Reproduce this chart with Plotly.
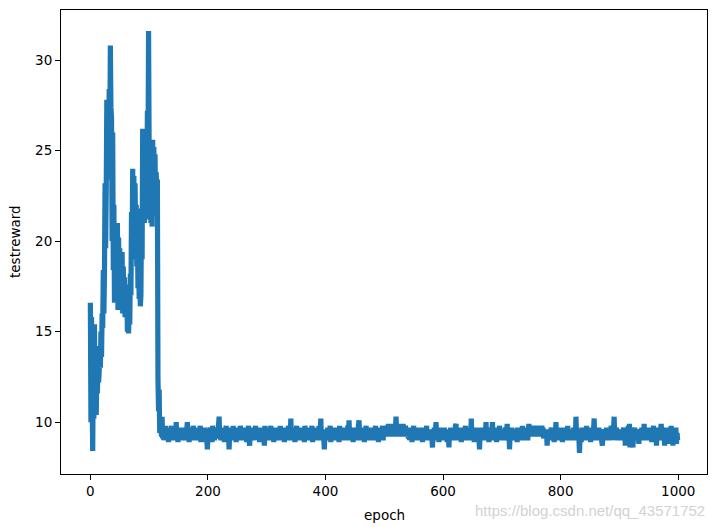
import plotly.graph_objects as go

# ---- data ----
# epochs 0..119 (learning phase)
early_reward = [
    16.6, 10.0, 15.8, 11.2, 8.4, 13.0, 10.2, 15.4, 10.6, 13.2,
    10.4, 12.8, 11.6, 13.8, 12.2, 12.8, 14.2, 13.0, 15.0, 13.6,
    16.0, 15.2, 18.4, 16.0, 18.2, 23.2, 19.6, 22.8, 27.8, 23.4,
    26.2, 23.8, 28.4, 25.0, 30.8, 27.4, 26.8, 20.0, 26.0, 18.4,
    22.0, 16.6, 19.8, 16.8, 20.4, 18.0, 21.0, 16.2, 20.2, 17.2,
    19.6, 16.4, 18.8, 17.0, 19.4, 16.0, 18.6, 16.6, 18.0, 15.8,
    17.4, 16.2, 17.6, 15.0, 16.6, 14.9, 16.4, 15.4, 18.2, 17.0,
    21.6, 19.0, 24.0, 20.2, 23.6, 19.6, 23.2, 20.4, 22.0, 18.6,
    20.6, 17.4, 19.8, 16.8, 18.6, 16.4, 17.0, 21.8, 19.0, 26.2,
    22.0, 26.0, 21.0, 25.4, 21.6, 24.8, 21.2, 27.2, 24.0, 31.6,
    25.0, 22.4, 25.4, 21.0, 24.6, 20.8, 25.6, 21.4, 25.2, 22.2,
    24.8, 21.6, 23.8, 22.6, 23.4, 12.4, 10.6, 11.8, 9.4, 10.2,
]

# epochs 120..999 (plateau), 20 epochs per row
late_reward = [
    9.6, 9.2, 10.3, 9.1, 9.7, 9.0, 9.5, 9.3, 9.8, 9.0, 9.6, 9.2, 9.4, 8.9, 9.7, 9.1, 9.5, 9.3, 9.8, 9.1,
    9.4, 9.0, 9.6, 9.2, 9.5, 9.1, 10.0, 9.2, 9.6, 8.9, 9.4, 9.1, 9.7, 9.0, 9.3, 9.2, 9.6, 9.0, 9.5, 9.1,
    9.7, 9.2, 9.4, 9.0, 9.6, 10.0, 9.1, 9.5, 8.9, 9.7, 9.2, 9.4, 9.0, 9.6, 9.1, 9.8, 9.2, 9.3, 9.0, 9.6,
    9.1, 9.5, 9.2, 9.7, 9.0, 9.4, 9.3, 9.8, 8.9, 9.5, 9.1, 9.6, 9.2, 9.4, 8.9, 9.7, 9.0, 9.3, 9.1, 8.5,
    9.2, 9.6, 9.0, 9.4, 9.7, 9.1, 9.5, 8.9, 9.8, 9.2, 9.4, 9.0, 9.6, 9.3, 9.7, 9.1, 9.5, 9.2, 9.8, 10.3,
    9.2, 9.6, 9.0, 9.5, 9.1, 9.7, 9.3, 9.4, 8.9, 9.6, 9.2, 9.8, 9.0, 9.5, 9.1, 9.3, 8.5, 9.4, 9.0, 9.7,
    9.2, 9.5, 9.1, 9.8, 9.0, 9.4, 9.3, 9.6, 8.9, 9.7, 9.1, 9.5, 9.2, 9.4, 9.0, 9.8, 9.3, 9.6, 9.1, 9.5,
    9.0, 9.7, 9.2, 9.4, 9.1, 9.6, 8.9, 9.5, 9.3, 9.8, 9.0, 8.7, 9.4, 9.6, 9.2, 9.5, 9.0, 9.7, 9.1, 9.4,
    9.2, 9.8, 9.0, 9.5, 9.3, 9.6, 9.1, 9.4, 8.9, 9.7, 9.2, 9.5, 9.0, 9.6, 9.3, 9.4, 8.7, 9.8, 9.1, 9.5,
    9.0, 9.6, 9.2, 9.7, 9.1, 9.4, 9.3, 9.8, 9.0, 9.5, 9.2, 9.6, 8.9, 9.4, 9.1, 9.7, 9.3, 9.5, 9.0, 9.6,
    9.2, 9.4, 9.1, 9.8, 9.0, 9.5, 9.3, 9.6, 9.1, 9.7, 8.9, 9.4, 9.2, 9.6, 9.0, 9.5, 9.3, 9.8, 9.1, 9.4,
    9.2, 10.2, 9.0, 9.6, 9.3, 9.5, 9.1, 9.7, 8.9, 9.4, 9.2, 9.8, 9.0, 9.5, 9.3, 9.6, 9.1, 9.4, 9.0, 9.7,
    9.3, 9.5, 9.1, 9.6, 8.9, 9.8, 9.2, 9.4, 9.0, 9.7, 9.3, 9.5, 9.1, 9.6, 9.0, 9.4, 9.2, 9.8, 8.9, 9.5,
    9.1, 9.6, 9.3, 9.4, 9.0, 9.7, 9.2, 9.5, 9.1, 9.8, 9.0, 9.4, 10.2, 9.2, 9.6, 9.0, 9.5, 9.1, 8.5, 9.3,
    9.6, 9.1, 9.4, 9.2, 9.7, 9.0, 9.5, 9.3, 9.8, 8.9, 9.4, 9.2, 9.6, 9.0, 9.5, 9.1, 9.7, 9.3, 9.4, 9.0,
    9.6, 9.2, 9.5, 8.9, 9.8, 9.1, 9.4, 9.3, 9.6, 9.0, 9.7, 9.2, 9.5, 9.1, 9.4, 9.0, 9.6, 9.3, 9.8, 9.1,
    10.1, 9.2, 9.5, 9.0, 9.6, 9.3, 9.4, 8.9, 9.7, 9.1, 9.5, 9.2, 9.6, 9.0, 9.4, 9.3, 9.8, 10.1, 9.2, 9.5,
    9.0, 9.6, 9.3, 9.4, 9.1, 9.7, 8.9, 9.5, 9.2, 9.8, 9.0, 9.4, 9.3, 9.6, 9.1, 9.5, 9.2, 9.7, 9.0, 9.4,
    9.3, 9.6, 9.1, 9.5, 9.2, 9.8, 9.0, 9.4, 9.3, 9.7, 8.9, 9.5, 9.2, 9.6, 9.1, 9.4, 9.3, 9.8, 9.0, 9.6,
    9.2, 9.7, 9.3, 9.8, 9.2, 9.6, 9.3, 9.9, 9.4, 9.7, 9.2, 9.8, 9.3, 9.9, 9.2, 9.7, 9.4, 9.8, 9.3, 9.7,
    10.3, 9.3, 9.7, 9.2, 9.9, 9.3, 9.6, 9.2, 9.8, 9.4, 9.7, 9.2, 9.9, 9.3, 9.6, 9.2, 9.8, 9.3, 9.7, 9.2,
    9.5, 9.1, 9.7, 9.0, 9.4, 9.3, 9.6, 8.9, 9.5, 9.2, 9.8, 9.0, 9.4, 9.3, 9.6, 9.1, 9.5, 9.2, 9.7, 9.0,
    9.4, 9.2, 9.6, 9.1, 9.5, 8.9, 9.7, 9.3, 9.4, 9.0, 9.6, 9.2, 9.8, 9.1, 9.5, 9.3, 9.4, 9.0, 9.6, 9.2,
    9.5, 9.1, 8.6, 9.4, 9.2, 9.7, 9.0, 9.5, 10.0, 9.1, 9.6, 9.3, 9.4, 8.9, 9.7, 9.2, 9.5, 9.0, 9.6, 9.3,
    9.4, 9.1, 9.7, 9.0, 9.5, 9.2, 9.6, 8.9, 9.4, 9.3, 8.6, 9.5, 9.1, 9.7, 9.0, 9.4, 9.2, 9.6, 9.3, 9.5,
    9.0, 9.8, 9.9, 9.2, 9.4, 9.1, 9.6, 9.0, 9.5, 9.3, 9.7, 8.9, 9.4, 9.2, 9.6, 9.1, 9.5, 9.3, 9.8, 9.0,
    9.5, 9.2, 9.6, 9.1, 9.4, 9.0, 9.7, 9.3, 10.2, 9.1, 9.5, 9.2, 9.6, 8.9, 9.4, 9.3, 9.7, 9.0, 9.5, 9.2,
    9.6, 9.1, 8.5, 9.4, 9.2, 9.7, 9.0, 9.5, 9.3, 9.6, 9.1, 9.4, 9.2, 10.0, 9.0, 9.5, 9.3, 9.7, 8.9, 9.4,
    9.2, 9.6, 9.1, 9.5, 10.0, 9.0, 9.4, 9.3, 9.7, 9.1, 9.5, 8.9, 9.6, 9.2, 9.4, 9.0, 9.8, 9.3, 9.5, 9.1,
    9.4, 9.2, 9.6, 9.0, 9.5, 9.3, 9.7, 9.1, 9.4, 9.9, 9.2, 9.0, 9.6, 8.5, 9.3, 9.5, 9.1, 9.7, 9.0, 9.4,
    9.2, 9.6, 9.1, 9.5, 9.3, 9.4, 8.9, 9.7, 9.2, 9.5, 9.0, 9.6, 9.3, 9.4, 9.1, 9.8, 9.0, 9.5, 9.2, 9.6,
    9.1, 9.4, 9.3, 9.7, 9.0, 9.5, 9.9, 9.2, 9.7, 9.2, 9.6, 9.3, 9.8, 9.2, 9.6, 9.3, 9.8, 9.2, 9.7, 9.3,
    9.7, 9.2, 9.6, 9.3, 9.8, 9.2, 9.7, 9.3, 9.8, 9.2, 9.7, 9.1, 9.5, 9.3, 9.6, 9.1, 9.4, 8.7, 9.5, 9.2,
    9.6, 9.0, 9.4, 9.3, 9.7, 9.1, 9.5, 9.2, 9.6, 8.9, 9.4, 9.3, 10.0, 9.1, 9.5, 9.2, 9.7, 9.0, 9.4, 9.3,
    9.6, 9.1, 9.5, 8.9, 9.7, 9.2, 9.4, 9.0, 9.6, 9.3, 9.5, 9.1, 9.8, 9.0, 9.4, 9.2, 9.6, 9.1, 9.5, 9.3,
    9.4, 9.0, 9.7, 9.2, 9.5, 9.1, 10.3, 9.3, 9.4, 9.0, 9.6, 9.2, 8.3, 9.1, 9.5, 8.9, 9.7, 9.2, 9.4, 9.0,
    9.6, 9.3, 9.5, 9.1, 9.8, 9.0, 9.4, 9.2, 9.6, 9.1, 9.5, 8.9, 9.7, 9.3, 9.4, 9.0, 9.6, 10.2, 9.1, 9.5,
    9.2, 9.6, 9.0, 9.4, 9.3, 9.7, 9.1, 9.5, 9.2, 9.6, 8.9, 8.7, 9.4, 9.3, 9.6, 9.0, 9.5, 9.2, 9.7, 9.1,
    9.4, 9.3, 9.6, 9.0, 9.5, 9.2, 9.8, 9.1, 9.4, 9.3, 9.6, 10.3, 9.0, 9.5, 9.2, 9.7, 9.1, 9.4, 9.3, 9.6,
    9.0, 9.5, 9.2, 9.6, 9.1, 9.4, 9.3, 9.7, 9.0, 9.5, 8.7, 9.6, 9.2, 9.4, 9.1, 9.8, 9.0, 9.9, 8.6, 9.5,
    9.2, 9.6, 9.1, 8.6, 9.4, 9.3, 9.7, 9.0, 9.5, 9.2, 9.6, 9.1, 9.4, 8.8, 9.5, 9.3, 9.6, 9.0, 9.7, 9.2,
    9.4, 9.1, 9.9, 9.0, 9.5, 9.3, 9.6, 9.1, 9.4, 9.2, 9.7, 9.0, 9.5, 9.3, 9.6, 8.9, 9.4, 9.2, 9.8, 9.1,
    9.5, 9.3, 9.6, 8.7, 9.4, 9.2, 9.7, 9.0, 9.5, 9.1, 9.6, 9.9, 9.3, 9.4, 9.0, 9.7, 9.2, 8.7, 9.5, 9.1,
    9.6, 9.3, 9.4, 8.8, 9.7, 9.2, 9.5, 9.1, 9.8, 9.0, 9.4, 8.7, 9.6, 9.2, 9.5, 9.0, 9.7, 8.8, 9.4, 9.0,
]

test_reward = early_reward + late_reward
epochs = list(range(len(test_reward)))

x_ticks = [0, 200, 400, 600, 800, 1000]
y_ticks = [10, 15, 20, 25, 30]
x_label = "epoch"
y_label = "testreward"

# the page body adds an 8px offset; the figure is sized so that the
# plot area lands at x 61..707, y 10..474 of the 717x527 window
OFF = 8
PLOT_W, PLOT_H = 646, 464
M_L, M_T = 61 - OFF, 10 - OFF
FIG_W, FIG_H = 717 - OFF, 527 - OFF
M_R = FIG_W - M_L - PLOT_W
M_B = FIG_H - M_T - PLOT_H

fig = go.Figure()
fig.add_trace(go.Scatter(
    x=epochs, y=test_reward, mode="lines",
    line=dict(color="#1f77b4", width=5.2, simplify=False),
    showlegend=False,
))

font = dict(family="DejaVu Sans, sans-serif", size=13.5, color="#000000")

axis_common = dict(
    showline=True, linecolor="#000000", linewidth=1.1, mirror=True,
    ticks="outside", ticklen=5, tickwidth=1.1, tickcolor="#000000",
    showgrid=False, zeroline=False, tickfont=font, automargin=False,
)

fig.update_layout(
    width=FIG_W, height=FIG_H,
    margin=dict(l=M_L, r=M_R, t=M_T, b=M_B, pad=0, autoexpand=False),
    paper_bgcolor="white", plot_bgcolor="white",
    font=font,
    xaxis=dict(range=[-49.95, 1048.95], tickvals=x_ticks, **axis_common),
    yaxis=dict(range=[7.135, 32.765], tickvals=y_ticks, **axis_common),
    annotations=[
        dict(text=x_label, xref="paper", yref="paper", x=0.5, y=-(515 - 474) / PLOT_H,
             xanchor="center", yanchor="middle", showarrow=False, font=font),
        dict(text=y_label, xref="paper", yref="paper", x=-(61 - 15) / PLOT_W, y=0.5,
             xanchor="center", yanchor="middle", textangle=-90, showarrow=False, font=font),
        dict(text="https://blog.csdn.net/qq_43571752", xref="paper", yref="paper",
             x=1.0, y=-(510 - 474) / PLOT_H, xanchor="right", yanchor="middle", showarrow=False,
             font=dict(family="Liberation Sans, Arial, sans-serif", size=15, color="#d2d2d2")),
    ],
)

fig.write_html("out.html")
